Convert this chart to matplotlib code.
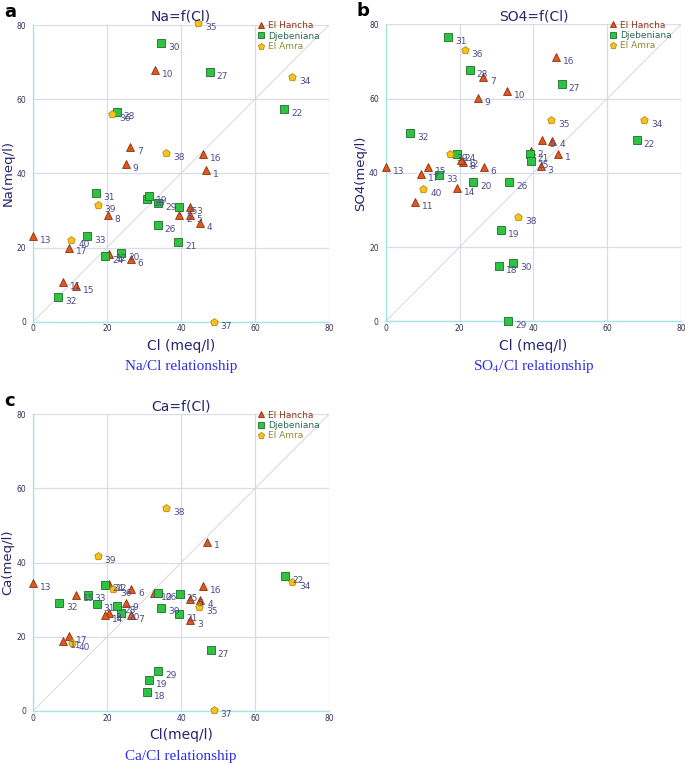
import matplotlib
matplotlib.use('Agg')
import matplotlib.pyplot as plt
from matplotlib.lines import Line2D

# (sample id, Cl, value), meq/l
na_hancha = [(1, 46.8, 41.0), (2, 39.5, 28.8), (3, 42.3, 30.9), (4, 45.0, 26.6),
             (5, 42.3, 28.8), (6, 26.4, 17.0), (7, 26.3, 47.1), (8, 20.2, 28.8),
             (9, 25.0, 42.5), (10, 32.9, 67.8), (11, 8.1, 10.8), (12, 20.5, 18.2),
             (13, 0.0, 23.2), (15, 11.7, 9.5), (16, 46.0, 45.1), (17, 9.7, 20.0)]
na_djeb = [(18, 30.7, 33.2), (19, 31.3, 33.9), (20, 23.8, 18.6), (21, 39.3, 21.5),
           (22, 67.9, 57.3), (24, 19.5, 17.8), (25, 39.5, 30.9), (26, 33.7, 26.0),
           (27, 47.8, 67.4), (28, 22.6, 56.5), (29, 33.8, 31.9), (30, 34.6, 75.2),
           (31, 17.1, 34.6), (32, 6.8, 6.7), (33, 14.7, 23.2)]
na_amra = [(34, 70.0, 66.1), (35, 44.7, 80.6), (36, 21.4, 56.0), (37, 48.8, 0.0),
           (38, 35.9, 45.6), (39, 17.5, 31.5), (40, 10.3, 22.0)]

so4_hancha = [(1, 46.8, 45.2), (2, 39.3, 46.0), (3, 42.0, 41.8), (4, 45.1, 48.7),
              (5, 42.4, 48.9), (6, 26.5, 41.5), (7, 26.4, 65.9), (8, 20.8, 42.8),
              (9, 24.9, 60.2), (10, 32.8, 62.0), (11, 8.0, 32.1), (12, 20.3, 43.5),
              (13, 0.0, 41.5), (14, 19.4, 35.9), (15, 11.5, 41.5), (16, 46.1, 71.3),
              (17, 9.5, 39.6)]
so4_djeb = [(18, 30.6, 15.0), (19, 31.1, 24.5), (20, 23.7, 37.5), (21, 39.1, 45.1),
            (22, 68.0, 48.9), (24, 19.4, 45.1), (25, 39.3, 43.1), (26, 33.4, 37.5),
            (27, 47.7, 63.8), (28, 22.7, 67.6), (29, 33.2, 0.0), (30, 34.6, 15.7),
            (31, 16.9, 76.7), (32, 6.7, 50.6), (33, 14.5, 39.4)]
so4_amra = [(34, 70.0, 54.3), (35, 44.8, 54.3), (36, 21.4, 73.1), (38, 35.9, 28.2),
            (39, 17.3, 45.1), (40, 10.2, 35.7)]

ca_hancha = [(1, 46.9, 45.7), (3, 42.4, 24.5), (4, 45.2, 29.8), (5, 42.4, 30.1),
             (6, 26.5, 32.8), (7, 26.5, 25.8), (8, 20.5, 26.5), (9, 25.1, 29.1),
             (10, 32.8, 31.9), (11, 8.2, 18.8), (12, 20.5, 34.3), (13, 0.0, 34.6),
             (14, 19.5, 25.8), (15, 11.7, 31.4), (16, 46.0, 33.6), (17, 9.7, 20.2)]
ca_djeb = [(18, 30.7, 5.2), (19, 31.4, 8.3), (20, 23.9, 26.3), (21, 39.5, 26.2),
           (22, 68.1, 36.4), (24, 19.5, 34.1), (25, 39.7, 31.5), (26, 33.8, 31.9),
           (27, 48.0, 16.4), (28, 22.8, 28.4), (29, 33.9, 10.8), (30, 34.7, 27.9),
           (31, 17.2, 28.8), (32, 7.0, 29.0), (33, 14.8, 31.4)]
ca_amra = [(34, 70.1, 34.9), (35, 44.9, 28.0), (36, 21.6, 32.8), (37, 48.8, 0.3),
           (38, 35.9, 54.7), (39, 17.5, 41.9), (40, 10.5, 18.4)]

groups = ['El Hancha', 'Djebeniana', 'El Amra']
markers = ['^', 's', 'p']
faces = ['#e2571c', '#2ec441', '#f6c31c']
edges = ['#8a2f0a', '#1d6e2a', '#b68a10']
legend_text = ['#8b3a1a', '#2c6a50', '#8c8a3a']

navy = '#25256e'
label_col = '#4b4b8c'

plt.rcParams['mathtext.fontset'] = 'stix'

fig = plt.figure(figsize=(6.85, 7.65), dpi=100)
ax_a = fig.add_axes([0.0482, 0.5795, 0.4321, 0.3878])
ax_b = fig.add_axes([0.5631, 0.5800, 0.4311, 0.3882])
ax_c = fig.add_axes([0.0482, 0.0706, 0.4321, 0.3878])

panels = [
    (ax_a, [na_hancha, na_djeb, na_amra], 'Na=f(Cl)', 'Cl (meq/l)', 'Na(meq/l)', 'a',
     'Na/Cl relationship'),
    (ax_b, [so4_hancha, so4_djeb, so4_amra], 'SO4=f(Cl)', 'Cl (meq/l)', 'SO4(meq/l)', 'b',
     r'SO$_4$/Cl relationship'),
    (ax_c, [ca_hancha, ca_djeb, ca_amra], 'Ca=f(Cl)', 'Cl(meq/l)', 'Ca(meq/l)', 'c',
     'Ca/Cl relationship'),
]

for ax, data, title, xlab, ylab, letter, caption in panels:
    ax.set_xlim(0, 80)
    ax.set_ylim(0, 80)
    ax.set_xticks([0, 20, 40, 60, 80])
    ax.set_yticks([0, 20, 40, 60, 80])
    ax.grid(True, color='#dcdce8', lw=0.9)
    ax.set_axisbelow(True)
    for s in ['top', 'right']:
        ax.spines[s].set_visible(False)
    for s in ['left', 'bottom']:
        ax.spines[s].set_color('#a6e6e2')
        ax.spines[s].set_linewidth(1.0)
    ax.tick_params(length=0, labelsize=5.5, labelcolor='#33335a')
    ax.tick_params(axis='y', pad=5)
    ax.tick_params(axis='x', pad=2)
    ax.plot([0, 80], [0, 80], color='#d2d2d8', lw=0.6, zorder=1)

    for pts, mk, fc, ec in zip(data, markers, faces, edges):
        xs = [p[1] for p in pts]
        ys = [p[2] for p in pts]
        ax.scatter(xs, ys, marker=mk, s=32, c=fc, edgecolors=ec, linewidths=0.6,
                   zorder=3, clip_on=False)
        for sid, x, y in pts:
            ax.annotate(str(sid), (x, y), xytext=(5, -5), textcoords='offset points',
                        fontsize=6.5, color=label_col, zorder=4, annotation_clip=False)

    ax.set_title(title, fontsize=10, color=navy, pad=3)
    ax.set_xlabel(xlab, fontsize=10, color=navy, labelpad=4)
    ax.set_ylabel(ylab, fontsize=9.5, color=navy)
    ax.yaxis.set_label_coords(-0.062, 0.5)
    ax.text(-0.078, 1.044, letter, transform=ax.transAxes, fontsize=13,
            fontweight='bold', color='black', va='center', ha='center')
    ax.text(0.5, -0.152, caption, transform=ax.transAxes, fontsize=11,
            family='Liberation Serif', color='#2d2de6', ha='center', va='center')

    handles = [Line2D([], [], marker=m, ls='', markersize=5, markerfacecolor=f,
                      markeredgecolor=e, markeredgewidth=0.6)
               for m, f, e in zip(markers, faces, edges)]
    leg = ax.legend(handles, groups, loc='upper left', bbox_to_anchor=(0.745, 1.025),
                    frameon=False, fontsize=6.5, handlelength=0.8, handletextpad=0.4,
                    labelspacing=0.15, borderaxespad=0)
    for t, col in zip(leg.get_texts(), legend_text):
        t.set_color(col)

fig.savefig('out.png', dpi=100)
